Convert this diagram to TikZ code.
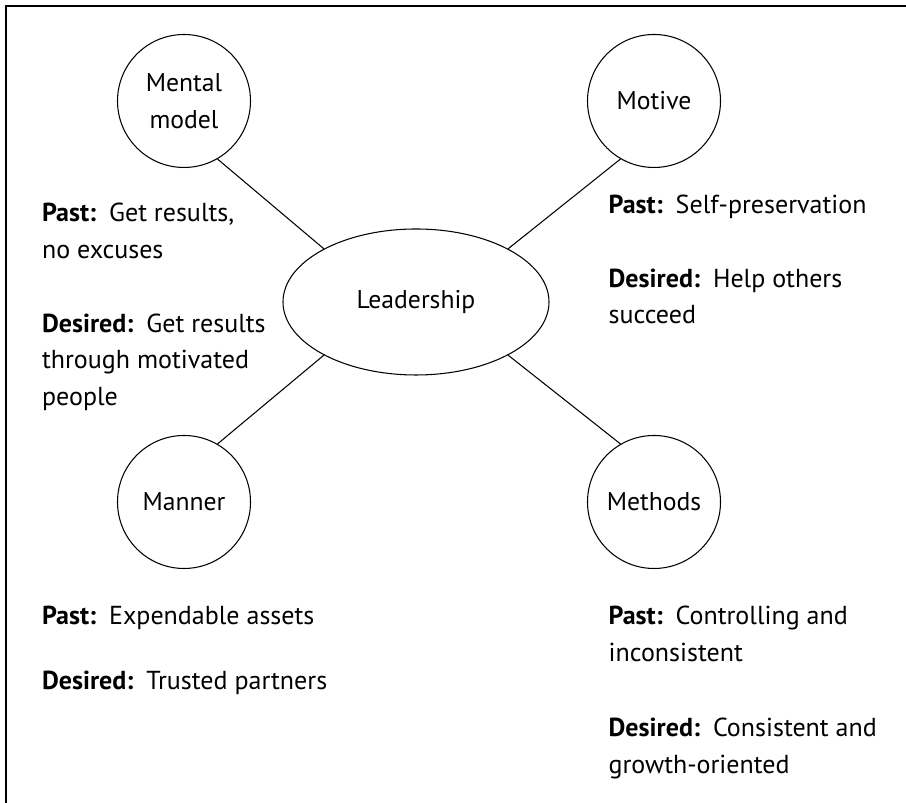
\documentclass[tikz,border=0pt]{standalone}
\usepackage{fontspec}
\setmainfont{PT Sans}
\usetikzlibrary{shapes.geometric,positioning}

\begin{document}
\begin{tikzpicture}[
  topic/.style={draw=black, circle, line width=0.6pt, minimum size=2.66cm, inner sep=0pt, align=center, font=\fontsize{14.6}{20.9}\selectfont},
  hub/.style={draw=black, ellipse, line width=0.6pt, minimum width=5.32cm, minimum height=2.92cm, inner sep=0pt, font=\fontsize{14.6}{20.9}\selectfont},
  note/.style={anchor=base west, inner sep=0pt, align=left, font=\fontsize{14.8}{20.9}\selectfont},
  link/.style={draw=black, line width=0.6pt}
]
  \useasboundingbox (0,0) rectangle (18.12,16.06);
  % frame (only top and left edges show)
  \draw[line width=1pt] (0.12,0) |- (18.12,15.94);

  \node[hub] (lead) at (8.32,10.02) {Leadership};
  \node[topic] (mental) at (3.68,14.04) {Mental\\model};
  \node[topic] (motive) at (13.08,14.04) {Motive};
  \node[topic] (manner) at (3.68,6.02) {Manner};
  \node[topic] (methods) at (13.08,6.02) {Methods};

  \draw[link] (mental.-60) -- (lead.150);
  \draw[link] (motive.-120) -- (lead.30);
  \draw[link] (manner.60) -- (lead.210);
  \draw[link] (methods.120) -- (lead.-30);

  % past / desired notes (base = last line)
  \node[note] (mentalpast) at (0.834,10.89) {\textbf{Past:}\hspace{0.5em}Get results,\\no excuses};
  \node[note] (mentaldes) at (0.834,7.948) {\textbf{Desired:}\hspace{0.5em}Get results\\through motivated\\people};
  \node[note] (motivepast) at (12.166,11.794) {\textbf{Past:}\hspace{0.5em}Self-preservation};
  \node[note] (motivedes) at (12.166,9.58) {\textbf{Desired:}\hspace{0.5em}Help others\\succeed};
  \node[note] (mannerpast) at (0.834,3.56) {\textbf{Past:}\hspace{0.5em}Expendable assets};
  \node[note] (mannerdes) at (0.834,2.26) {\textbf{Desired:}\hspace{0.5em}Trusted partners};
  \node[note] (methodspast) at (12.166,2.826) {\textbf{Past:}\hspace{0.5em}Controlling and\\inconsistent};
  \node[note] (methodsdes) at (12.166,0.594) {\textbf{Desired:}\hspace{0.5em}Consistent and\\growth-oriented};
\end{tikzpicture}
\end{document}
